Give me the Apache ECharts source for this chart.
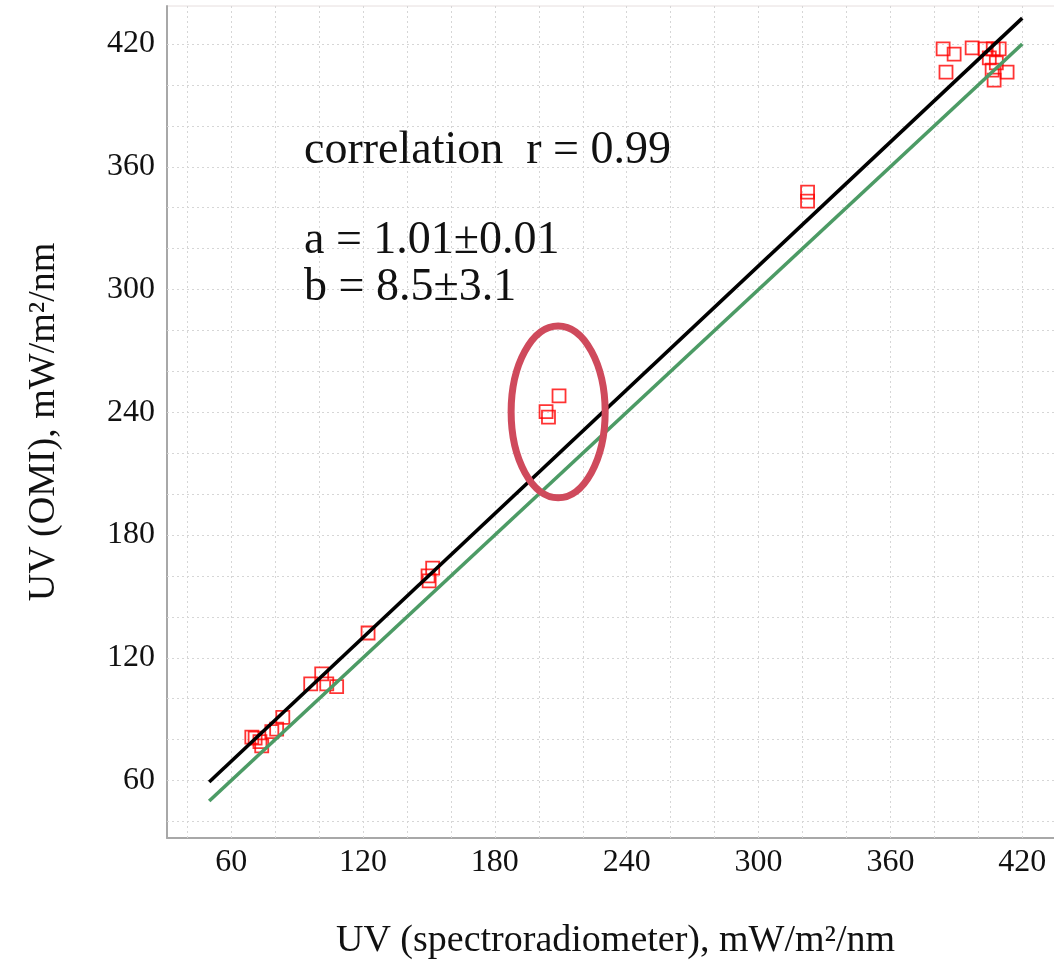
<!DOCTYPE html>
<html>
<head>
<meta charset="utf-8">
<script src="https://cdn.jsdelivr.net/npm/echarts@6/dist/echarts.min.js"></script>
<style>
html,body{margin:0;padding:0;background:#fff;}
#chart{width:1054px;height:960px;}
</style>
</head>
<body>
<div id="chart"></div>
<script>
// ---- data ----
const spectroUV = [
  // top-right cluster
  384.0, 389.0, 397.2, 403.1, 406.8, 409.5, 405.0, 408.2, 385.3, 406.3, 413.1, 407.2,
  // 320s
  322.3, 322.3,
  // ellipse points
  209.2, 203.3, 204.4,
  // ~150
  151.7, 149.6, 150.1,
  // ~122
  122.3,
  // ~100
  96.2, 101.2, 103.5, 108.0,
  // low cluster
  83.5, 80.7, 78.5, 70.9, 73.1, 73.9, 69.4
];
const omiUV = [
  417.6, 415.1, 418.1, 417.6, 417.6, 417.6, 413.2, 410.8, 406.3, 407.3, 406.3, 402.4,
  347.6, 343.2,
  248.0, 240.3, 237.6,
  163.8, 160.0, 157.6,
  132.1,
  107.2, 112.1, 107.2, 105.9,
  90.9, 85.1, 83.9, 80.7, 79.0, 76.9, 81.2
];
const fitLineX = [50, 420];
const fitLineY = [59.3, 432.7];
const oneToOneX = [50, 420];
const oneToOneY = [50, 420];
const tickValues = [60, 120, 180, 240, 300, 360, 420];
const gridValues = [40, 60, 80, 100, 120, 140, 160, 180, 200, 220, 240, 260, 280, 300, 320, 340, 360, 380, 400, 420];
const ellipseCenter = [208.8, 240.2];
const ellipseRadius = [21.4, 42.0];
const annotationLines = ['correlation  r = 0.99', 'a = 1.01\u00b10.01', 'b = 8.5\u00b13.1'];

// ---- build ----
const chart = echarts.init(document.getElementById('chart'), null, {renderer: 'canvas'});
const FONT = '"Liberation Serif", "Times New Roman", serif';
const gridStyle = {type: [2, 3], color: '#d6d6d6', width: 1};

const option = {
  animation: false,
  backgroundColor: '#fff',
  grid: {left: 167, top: 6, width: 897, height: 832, containLabel: false, outerBoundsMode: 'none',
    show: true, borderColor: '#e6dede', borderWidth: 1},
  xAxis: {
    type: 'value', min: 30.8, max: 439,
    name: 'UV (spectroradiometer), mW/m\u00b2/nm',
    nameLocation: 'middle', nameGap: 84,
    nameTextStyle: {fontFamily: FONT, fontSize: 38, color: '#111'},
    axisLine: {show: true, lineStyle: {color: '#a8a8a8', width: 2}},
    axisTick: {show: false},
    splitLine: {show: false},
    axisLabel: {customValues: tickValues, fontFamily: FONT, fontSize: 32, color: '#111', margin: 9,
      formatter: v => String(Math.round(v))}
  },
  yAxis: {
    type: 'value', min: 31.9, max: 438.6,
    name: 'UV (OMI), mW/m\u00b2/nm',
    nameLocation: 'middle', nameGap: 104,
    nameTextStyle: {fontFamily: FONT, fontSize: 38, color: '#111'},
    axisLine: {show: true, lineStyle: {color: '#a8a8a8', width: 2}},
    axisTick: {show: false},
    splitLine: {show: false},
    axisLabel: {customValues: tickValues, fontFamily: FONT, fontSize: 32, color: '#111', margin: 12,
      formatter: v => String(Math.round(v))}
  },
  graphic: annotationLines.map((t, i) => ({
    type: 'text', left: 304, top: [128, 218, 265][i], z: 100,
    style: {text: t, fontFamily: FONT, fontSize: 46, fill: '#111'}
  })),
  series: [
    {
      type: 'line', data: [], silent: true, z: 1,
      markLine: {
        silent: true, symbol: 'none', label: {show: false}, z: 1,
        lineStyle: gridStyle,
        data: gridValues.map(v => ({xAxis: v})).concat(gridValues.map(v => ({yAxis: v})))
      }
    },
    {
      type: 'scatter', symbol: 'rect', symbolSize: 13, z: 3,
      itemStyle: {color: 'rgba(0,0,0,0)', borderColor: '#ff0000', borderWidth: 1.8},
      data: spectroUV.map((x, i) => [x, omiUV[i]])
    },
    {
      type: 'line', symbol: 'none', z: 4,
      lineStyle: {color: '#4c9b65', width: 3.6},
      data: oneToOneX.map((x, i) => [x, oneToOneY[i]])
    },
    {
      type: 'line', symbol: 'none', z: 5,
      lineStyle: {color: '#000', width: 3.6},
      data: fitLineX.map((x, i) => [x, fitLineY[i]])
    },
    {
      type: 'custom', z: 6, silent: true,
      data: [ellipseCenter],
      renderItem: function (params, api) {
        const c = api.coord([api.value(0), api.value(1)]);
        const e = api.coord([api.value(0) + ellipseRadius[0], api.value(1) + ellipseRadius[1]]);
        return {
          type: 'ellipse',
          shape: {cx: c[0], cy: c[1], rx: Math.abs(e[0] - c[0]), ry: Math.abs(c[1] - e[1])},
          style: {fill: 'none', stroke: '#cf4a5c', lineWidth: 7}
        };
      }
    }
  ]
};
chart.setOption(option);
</script>
</body>
</html>
